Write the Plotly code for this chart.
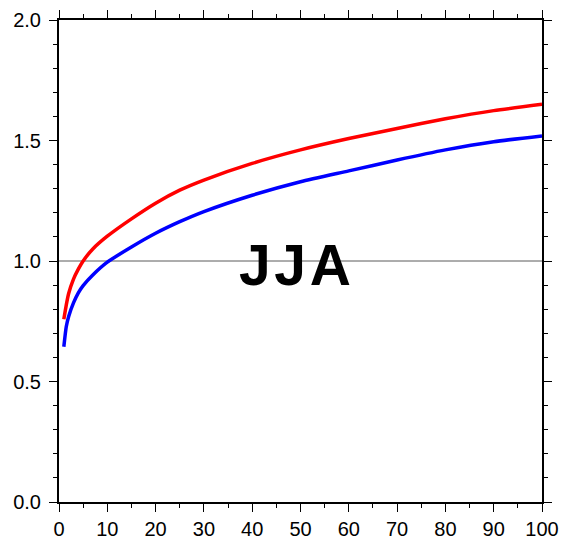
import plotly.graph_objects as go

# Return period (years) and the two curves
years = [1, 1.5, 2, 3, 4, 5, 7, 10, 15, 20, 25, 30, 40, 50, 60, 70, 80, 90, 100]
red_vals = [0.758, 0.817, 0.865, 0.925, 0.966, 1.000, 1.050, 1.103, 1.175, 1.240,
            1.294, 1.336, 1.405, 1.461, 1.508, 1.550, 1.590, 1.624, 1.650]
blue_vals = [0.644, 0.727, 0.770, 0.826, 0.868, 0.898, 0.942, 0.995, 1.058, 1.115,
             1.163, 1.205, 1.273, 1.329, 1.374, 1.419, 1.461, 1.495, 1.519]

x_ticks = list(range(0, 101, 10))
y_ticks = [0.0, 0.5, 1.0, 1.5, 2.0]
y_tick_text = ["0.0", "0.5", "1.0", "1.5", "2.0"]
season = "JJA"

FONT = "Liberation Sans, Arial, Helvetica, sans-serif"

fig = go.Figure()
fig.add_trace(go.Scatter(x=years, y=red_vals, mode="lines",
                         line=dict(color="#ff0000", width=3.5, shape="spline", smoothing=0.6),
                         showlegend=False))
fig.add_trace(go.Scatter(x=years, y=blue_vals, mode="lines",
                         line=dict(color="#0000ff", width=3.5, shape="spline", smoothing=0.6),
                         showlegend=False))

# reference line at 1.0
fig.add_shape(type="line", xref="paper", x0=0, x1=1, yref="y", y0=1.0, y1=1.0,
              line=dict(color="#5a5a5a", width=1), layer="below")

# season label, letters spaced slightly apart
gap = "<span style='font-size:13px'> </span>"
fig.add_annotation(x=48.9, y=0.985, text="<b>" + gap.join(season) + "</b>", showarrow=False,
                   font=dict(family=FONT, size=57, color="black"),
                   xanchor="center", yanchor="middle")

axis_common = dict(
    showgrid=False, zeroline=False, automargin=False,
    showline=True, linecolor="black", linewidth=2, mirror="ticks",
    ticks="outside", ticklen=8, tickwidth=1, tickcolor="black",
    tickfont=dict(family=FONT, size=20, color="black"),
)

fig.update_xaxes(range=[0, 100], tickvals=x_ticks,
                 minor=dict(dtick=5, tick0=0, ticks="outside", ticklen=4, tickwidth=1, tickcolor="black"),
                 **axis_common)
fig.update_yaxes(range=[0, 2], tickvals=y_ticks, ticktext=y_tick_text,
                 minor=dict(dtick=0.1, tick0=0, ticks="outside", ticklen=4, tickwidth=1, tickcolor="black"),
                 ticklabelstandoff=4,
                 **axis_common)

fig.update_layout(width=564, height=537, margin=dict(l=59, r=22, t=20, b=35),
                  plot_bgcolor="white", paper_bgcolor="white")

fig.write_html("out.html")
